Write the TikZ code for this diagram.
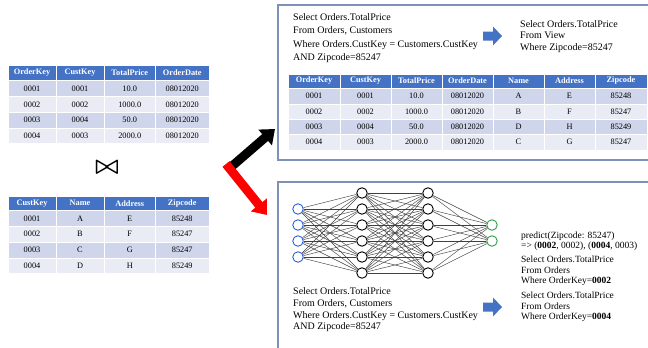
\documentclass[tikz,border=0pt]{standalone}
\usepackage{fontspec}
\setmainfont{Liberation Serif}
\usetikzlibrary{arrows.meta}
\definecolor{hdr}{HTML}{4472C4}
\definecolor{rowa}{HTML}{CFD5EA}
\definecolor{rowb}{HTML}{E9EBF5}
\definecolor{framec}{RGB}{125,145,185}
\definecolor{inblue}{HTML}{2F5FD0}
\definecolor{outgreen}{HTML}{2EA043}
\tikzset{
  celltext/.style={inner sep=0pt, font=\fontsize{8.3}{10}\selectfont},
  hdrtext/.style={inner sep=0pt, font=\fontsize{8.3}{10}\selectfont\bfseries, text=white},
  sqltext/.style={inner sep=0pt, anchor=north west, align=left},
  neuron/.style={circle, draw=black, fill=white, line width=0.9pt, minimum size=10.5pt, inner sep=0pt},
  nnedge/.style={draw=black!75, line width=0.45pt},
  boxframe/.style={draw=framec, line width=1.2pt},
  bigarrow/.style={line width=9pt, -{Triangle[width=20pt,length=13pt]}},
}
\newcommand\trow[6]{% prefix, y1, y2, fill, textstyle, list x1/x2/text
  \foreach \xa/\xb/\tx [count=\c] in {#6}{
    \path[fill=#4, draw=white, line width=0.9pt] (\xa,#2) rectangle (\xb,#3);
    \node[#5] (#1-\c) at ({(\xa+\xb)/2},{(#2+#3)/2}) {\tx};
  }}
\begin{document}
\begin{tikzpicture}[x=1pt,y=-1pt]
\useasboundingbox (0,0) rectangle (648,348);
\fill[white] (0,0) rectangle (648,348);

% ---------- left table 1 (Orders)
\trow{ta0}{65}{80.5}{hdr}{hdrtext}{8/56/OrderKey,56/104/CustKey,104/155.5/TotalPrice,155.5/209/OrderDate}
\trow{ta1}{80.5}{96.5}{rowa}{celltext}{8/56/0001,56/104/0001,104/155.5/10.0,155.5/209/08012020}
\trow{ta2}{96.5}{112.5}{rowb}{celltext}{8/56/0002,56/104/0002,104/155.5/1000.0,155.5/209/08012020}
\trow{ta3}{112.5}{128}{rowa}{celltext}{8/56/0003,56/104/0004,104/155.5/50.0,155.5/209/08012020}
\trow{ta4}{128}{143.5}{rowb}{celltext}{8/56/0004,56/104/0003,104/155.5/2000.0,155.5/209/08012020}

\node[inner sep=0pt, font=\fontsize{38}{38}\selectfont\boldmath] (join) at (107,167.5) {$\bowtie$};

% ---------- left table 2 (Customers)
\trow{tb0}{196}{210.5}{hdr}{hdrtext}{8/56/CustKey,56/104/Name,104/155.5/Address,155.5/209/Zipcode}
\trow{tb1}{210.5}{226.5}{rowa}{celltext}{8/56/0001,56/104/A,104/155.5/E,155.5/209/85248}
\trow{tb2}{226.5}{242}{rowb}{celltext}{8/56/0002,56/104/B,104/155.5/F,155.5/209/85247}
\trow{tb3}{242}{258}{rowa}{celltext}{8/56/0003,56/104/C,104/155.5/G,155.5/209/85247}
\trow{tb4}{258}{273.5}{rowb}{celltext}{8/56/0004,56/104/D,104/155.5/H,155.5/209/85249}

% ---------- big arrows
\coordinate (bt) at (231,167);
\coordinate (bh) at (275,129);
\coordinate (rt) at (226,164);
\coordinate (rh) at (267,215);
\draw[bigarrow, black] (bt) -- (bh);
\draw[bigarrow, red] (rt) -- (rh);

% ---------- frames
\draw[boxframe] (655,5) -- (278,5) -- (278,160) -- (655,160);
\draw[boxframe] (655,182) -- (278,182) -- (278,355);

% ---------- top text
\node[sqltext, font=\fontsize{10}{13.3}\selectfont] (q1) at (293,13.5)
  {Select Orders.TotalPrice\\From Orders, Customers\\Where Orders.CustKey = Customers.CustKey\\AND Zipcode=85247};
\fill[hdr] (483,31.5) -- (493,31.5) -- (493,26.5) -- (502,36) -- (493,45.5) -- (493,40.5) -- (483,40.5) -- cycle;
\node[sqltext, font=\fontsize{10}{11.7}\selectfont] (q2) at (520,20)
  {Select Orders.TotalPrice\\From View\\Where Zipcode=85247};

% ---------- top right table
\trow{tc0}{74}{88}{hdr}{hdrtext}{288/340/OrderKey,340/391/CustKey,391/442/TotalPrice,442/493/OrderDate,493/544/Name,544/595/Address,595/647/Zipcode}
\trow{tc1}{88}{104}{rowa}{celltext}{288/340/0001,340/391/0001,391/442/10.0,442/493/08012020,493/544/A,544/595/E,595/647/85248}
\trow{tc2}{104}{119.5}{rowb}{celltext}{288/340/0002,340/391/0002,391/442/1000.0,442/493/08012020,493/544/B,544/595/F,595/647/85247}
\trow{tc3}{119.5}{134.5}{rowa}{celltext}{288/340/0003,340/391/0004,391/442/50.0,442/493/08012020,493/544/D,544/595/H,595/647/85249}
\trow{tc4}{134.5}{150}{rowb}{celltext}{288/340/0004,340/391/0003,391/442/2000.0,442/493/08012020,493/544/C,544/595/G,595/647/85247}

% ---------- neural network
\foreach \i/\y in {1/209,2/225,3/241,4/257}
  \node[neuron, draw=inblue] (in\i) at (298,\y) {};
\foreach \i/\y in {1/193,2/209,3/225,4/241,5/257,6/273}{
  \node[neuron] (ha\i) at (362,\y) {};
  \node[neuron] (hb\i) at (428,\y) {};
}
\foreach \i/\y in {1/225,2/241}
  \node[neuron, draw=outgreen] (out\i) at (492,\y) {};
\foreach \a in {1,...,4}
  \foreach \b in {1,...,6}
    \draw[nnedge] (in\a) -- (ha\b);
\foreach \a in {1,...,6}
  \foreach \b in {1,...,6}
    \draw[nnedge] (ha\a) -- (hb\b);
\foreach \a in {1,...,6}
  \foreach \b in {1,2}
    \draw[nnedge] (hb\a) -- (out\b);

% ---------- bottom text
\node[sqltext, font=\fontsize{10}{11.7}\selectfont] (q3) at (293,287.5)
  {Select Orders.TotalPrice\\From Orders, Customers\\Where Orders.CustKey = Customers.CustKey\\AND Zipcode=85247};
\fill[hdr] (483,302.5) -- (493,302.5) -- (493,297.5) -- (502,307) -- (493,316.5) -- (493,311.5) -- (483,311.5) -- cycle;
\node[sqltext, font=\fontsize{9.5}{10.2}\selectfont] (p1) at (521,231.8)
  {predict(Zipcode: 85247)\\=> (\textbf{0002}, 0002), (\textbf{0004}, 0003)};
\node[sqltext, font=\fontsize{9.5}{10.5}\selectfont] (p2) at (521,255.8)
  {Select Orders.TotalPrice\\From Orders\\Where OrderKey=\textbf{0002}};
\node[sqltext, font=\fontsize{9.5}{10.5}\selectfont] (p3) at (521,291.8)
  {Select Orders.TotalPrice\\From Orders\\Where OrderKey=\textbf{0004}};
\end{tikzpicture}
\end{document}
